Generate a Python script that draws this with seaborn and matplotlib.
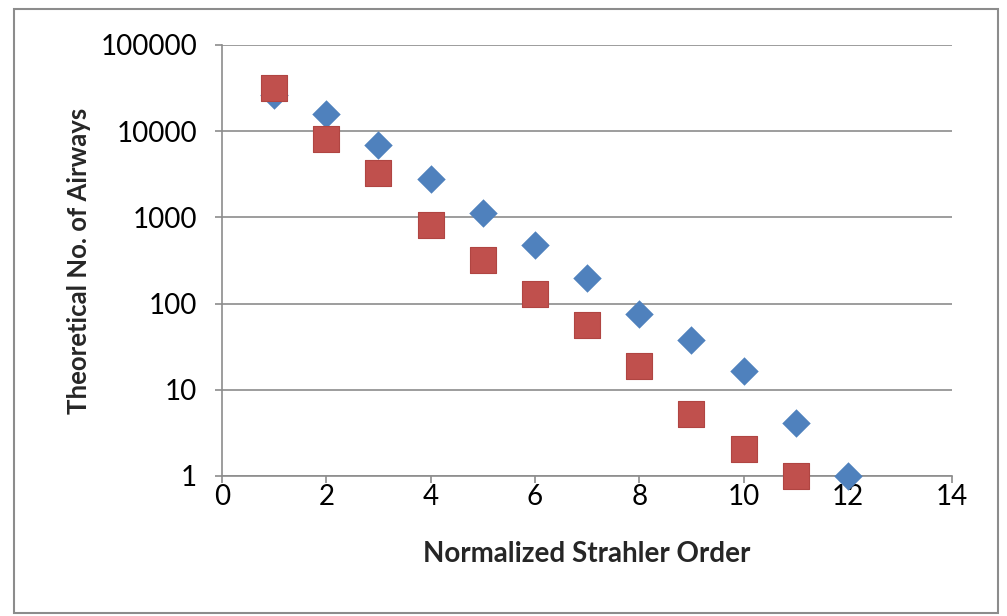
import pandas as pd
import matplotlib.pyplot as plt
import seaborn as sns
from matplotlib.patches import Rectangle

# Valores (escala logarítmica)
order = [1, 2, 3, 4, 5, 6, 7, 8, 9, 10, 11, 12]
blue_vals = [26000, 16000, 6900, 2800, 1120, 480, 200, 76, 38, 16.5, 4.1, 1]
red_order = [1, 2, 3, 4, 5, 6, 7, 8, 9, 10, 11]
red_vals = [31600, 8200, 3300, 810, 320, 128, 56, 19, 5.3, 2.05, 1]

df_blue = pd.DataFrame({"Order": order, "Airways": blue_vals})
df_red = pd.DataFrame({"Order": red_order, "Airways": red_vals})

sns.set_style("white")
plt.rcParams['font.family'] = ['Lato', 'DejaVu Sans']

fig = plt.figure(figsize=(10.07, 6.16), dpi=100)
ax = fig.add_axes([0.2205, 0.2273, 0.725, 0.6997])

sns.scatterplot(data=df_blue, x="Order", y="Airways", marker="D", s=210,
                color="#4F81BD", edgecolor="#4F81BD", linewidth=0, ax=ax,
                zorder=3, clip_on=False)
sns.scatterplot(data=df_red, x="Order", y="Airways", marker="s", s=340,
                color="#C0504D", edgecolor="#B04542", linewidth=0.8, ax=ax,
                zorder=4, clip_on=False)

ax.set_yscale("log")
ax.set_ylim(1, 100000)
ax.set_xlim(0, 14)
ax.set_xticks(range(0, 15, 2))
ax.set_yticks([1, 10, 100, 1000, 10000, 100000])
ax.set_yticklabels(["1", "10", "100", "1000", "10000", "100000"])
ax.minorticks_off()
ax.yaxis.grid(True, color="#8c8c8c", linewidth=1.2)
ax.set_axisbelow(True)

for side in ["top", "right"]:
    ax.spines[side].set_visible(False)
for side in ["left", "bottom"]:
    ax.spines[side].set_color("#8c8c8c")
    ax.spines[side].set_linewidth(1.2)

ax.tick_params(axis="both", direction="out", length=5, width=1.2, color="#8c8c8c",
               labelsize=20, labelcolor="black", left=True, bottom=True)
ax.tick_params(axis="y", pad=13)
ax.tick_params(axis="x", pad=1)
ax.set_xlabel("Normalized Strahler Order", fontsize=20, fontweight="bold", labelpad=22)
ax.set_ylabel("Theoretical No. of Airways", fontsize=18.5, fontweight="bold", labelpad=7)

fig.patches.append(Rectangle((14 / 1007, 1 - 613 / 616), 984 / 1007, 604 / 616,
                             transform=fig.transFigure, fill=False,
                             edgecolor="#8c8c8c", linewidth=1.5))

fig.savefig("out.png", dpi=100)
